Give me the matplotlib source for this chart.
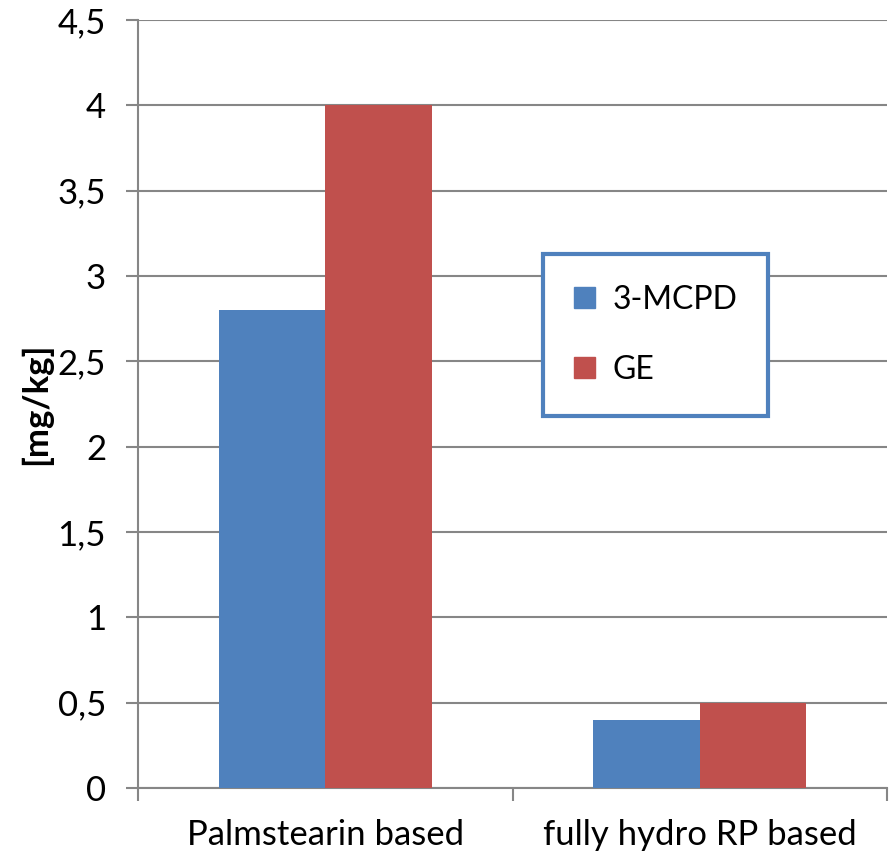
import numpy as np
import matplotlib.pyplot as plt
from matplotlib.patches import Patch
from matplotlib.ticker import FuncFormatter

# values in mg/kg
categories = ['Palmstearin based', 'fully hydro RP based']
mcpd = [2.8, 0.4]
ge = [4.0, 0.5]
series_names = ['3-MCPD', 'GE']

BLUE = '#4F81BD'
RED = '#C0504D'
GRID = '#868686'

plt.rcParams['font.family'] = ['Lato', 'DejaVu Sans']

fig = plt.figure(figsize=(8.89, 8.56), dpi=100)
ax = fig.add_axes([138 / 889, 1 - 788 / 856, 749 / 889, 768 / 856])

x = np.arange(len(categories))
w = 0.285
ax.bar(x - w / 2, mcpd, w, color=BLUE, zorder=3)
ax.bar(x + w / 2, ge, w, color=RED, zorder=3)

ax.set_xlim(-0.5, len(categories) - 0.5)
ax.set_ylim(0, 4.5)
ax.set_yticks(np.arange(0, 4.51, 0.5))
ax.yaxis.set_major_formatter(FuncFormatter(lambda v, _: f'{v:g}'.replace('.', ',')))
ax.grid(axis='y', color=GRID, linewidth=1.5, zorder=0)

ax.set_xticks(x)
ax.set_xticklabels(categories)
ax.set_xticks(np.arange(-0.5, len(categories)), minor=True)
ax.tick_params(axis='x', which='major', length=0, pad=22, labelsize=25)
ax.tick_params(axis='x', which='minor', length=9, width=1.5, color=GRID)
ax.tick_params(axis='y', length=9, width=1.5, color=GRID, labelsize=25, pad=14)

for side in ['top', 'right']:
    ax.spines[side].set_visible(False)
for side in ['left', 'bottom']:
    ax.spines[side].set_color(GRID)
    ax.spines[side].set_linewidth(1.5)

ax.set_ylabel('[mg/kg]', fontsize=25, fontweight='bold', labelpad=4)

handles = [Patch(color=BLUE, label=series_names[0]), Patch(color=RED, label=series_names[1])]
leg = ax.legend(handles=handles, loc='upper left', bbox_to_anchor=(0.5407, 0.6953),
                borderaxespad=0, fontsize=23, handlelength=0.65, handleheight=0.65,
                handletextpad=0.55, labelspacing=1.25, borderpad=0.97, fancybox=False,
                framealpha=1)
frame = leg.get_frame()
frame.set_edgecolor(BLUE)
frame.set_linewidth(3)

fig.savefig('out.png', dpi=100)
